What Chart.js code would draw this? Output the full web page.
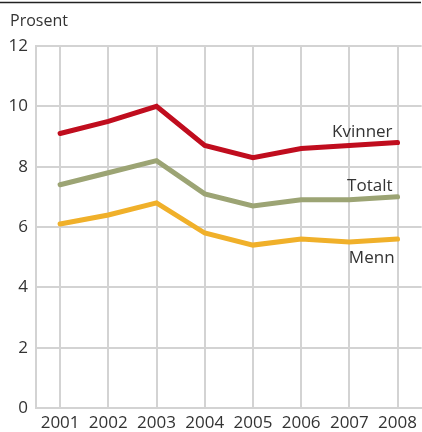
<!DOCTYPE html>
<html>
<head>
<meta charset="utf-8">
<script src="https://cdn.jsdelivr.net/npm/chart.js@4"></script>
<style>
  html, body { margin: 0; padding: 0; background: #fff; }
  #wrap { width: 422px; height: 432px; position: relative; }
</style>
</head>
<body>
<div id="wrap"><canvas id="chart" width="422" height="432"></canvas></div>
<script>
var years = ["2001", "2002", "2003", "2004", "2005", "2006", "2007", "2008"];
var kvinner = [9.1, 9.5, 10.0, 8.7, 8.3, 8.6, 8.7, 8.8];
var totalt = [7.4, 7.8, 8.2, 7.1, 6.7, 6.9, 6.9, 7.0];
var menn = [6.1, 6.4, 6.8, 5.8, 5.4, 5.6, 5.5, 5.6];
var yTicks = [0, 2, 4, 6, 8, 10, 12];

var FONT = "'Open Sans', sans-serif";
var TEXT = "#333333";
var GRID = "#d3d3d3";

// where the series names sit relative to the last point
var labelOffsets = { Kvinner: [-5, -6], Totalt: [-5, -6], Menn: [-3, 24] };

var extras = {
  id: "extras",
  beforeDraw: function (chart) {
    var c = chart.ctx;
    c.save();
    c.strokeStyle = "#222";
    c.lineWidth = 1.5;
    c.beginPath();
    c.moveTo(0, 2.5);
    c.lineTo(421, 2.5);
    c.stroke();
    c.fillStyle = TEXT;
    c.font = "16px " + FONT;
    c.textAlign = "left";
    c.textBaseline = "alphabetic";
    c.fillText("Prosent", 10, 26);
    c.restore();
  },
  afterDatasetsDraw: function (chart) {
    var c = chart.ctx;
    c.save();
    c.fillStyle = TEXT;
    c.font = "17px " + FONT;
    c.textAlign = "right";
    c.textBaseline = "alphabetic";
    chart.data.datasets.forEach(function (ds, i) {
      var pts = chart.getDatasetMeta(i).data;
      var p = pts[pts.length - 1];
      var off = labelOffsets[ds.label];
      c.fillText(ds.label, p.x + off[0], p.y + off[1]);
    });
    c.restore();
  }
};

var ctx = document.getElementById("chart").getContext("2d");
var myChart = new Chart(ctx, {
  type: "line",
  data: {
    labels: years,
    datasets: [
      { label: "Kvinner", data: kvinner, borderColor: "#c00d1e" },
      { label: "Totalt", data: totalt, borderColor: "#9ca474" },
      { label: "Menn", data: menn, borderColor: "#f0b02a" }
    ]
  },
  options: {
    responsive: false,
    animation: false,
    layout: { padding: { top: 46, right: 0, bottom: 0, left: 0 } },
    elements: {
      line: { borderWidth: 5, tension: 0, borderCapStyle: "round" },
      point: { radius: 0, hoverRadius: 0 }
    },
    plugins: {
      legend: { display: false },
      tooltip: { enabled: false }
    },
    scales: {
      x: {
        offset: true,
        grid: { color: GRID, lineWidth: 2, offset: false, drawTicks: false },
        border: { color: GRID, width: 2 },
        ticks: { color: TEXT, font: { family: FONT, size: 17 }, padding: 5, maxRotation: 0 },
        afterFit: function (s) { s.height = 24; }
      },
      y: {
        min: 0,
        max: 12,
        afterBuildTicks: function (s) { s.ticks = yTicks.map(function (v) { return { value: v }; }); },
        grid: { color: GRID, lineWidth: 2, drawTicks: false },
        border: { color: GRID, width: 2 },
        ticks: { color: TEXT, font: { family: FONT, size: 17 }, padding: 8 },
        afterFit: function (s) { s.width = 36; }
      }
    }
  },
  plugins: [extras]
});
</script>
</body>
</html>
